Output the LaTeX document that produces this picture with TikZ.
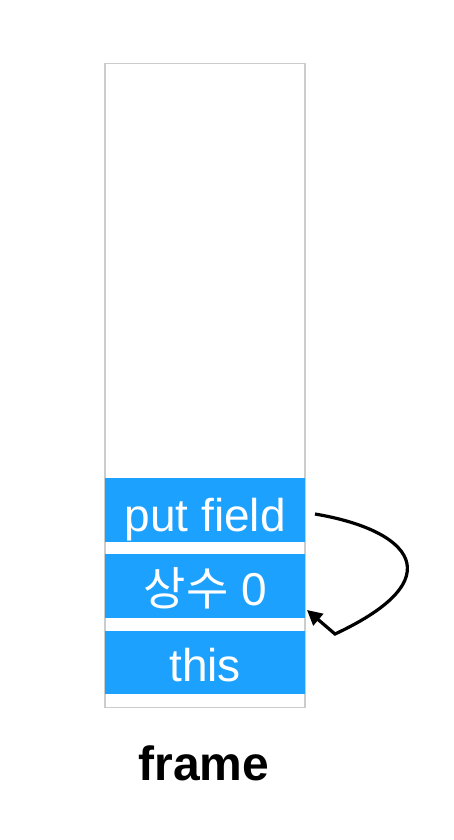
\documentclass[tikz,border=0pt]{standalone}
\usepackage{fontspec}
\setmainfont{Liberation Sans}
\newfontfamily\kofont{Noto Sans CJK KR}
\usetikzlibrary{arrows.meta}
\definecolor{slotblue}{RGB}{29,161,255}
\definecolor{framegray}{RGB}{204,204,204}
\begin{document}
\begin{tikzpicture}[x=1pt,y=-1pt,
  slot/.style={fill=slotblue, draw=none, minimum width=200pt, minimum height=63.5pt, inner sep=0pt, text=white, font=\fontsize{46}{50}\selectfont, anchor=north west, text depth=0pt},
  framebox/.style={draw=framegray, line width=1.5pt},
  flow/.style={line width=3.2pt, -{Triangle[length=15pt,width=15pt]}}]
\useasboundingbox (0,0) rectangle (454,840);
\fill[white] (0,0) rectangle (454,840);
\draw[framebox] (105,63.5) rectangle (305,707.5);
\node[slot, text height=44pt] (put) at (105,478) {put field};
\node[slot, text height=39pt] (const) at (105,554) {{\kofont 상수} 0};
\node[slot, text height=38.5pt] (this) at (105,630.5) {this};
\node[font=\bfseries\fontsize{48}{52}\selectfont, anchor=base] (lbl) at (204,780) {frame};
\coordinate (s) at (315,514);
\coordinate (e) at (307,610);
\draw[flow] (s) .. controls (410,530) and (455,578) .. (335,634) -- (e);
\end{tikzpicture}
\end{document}
